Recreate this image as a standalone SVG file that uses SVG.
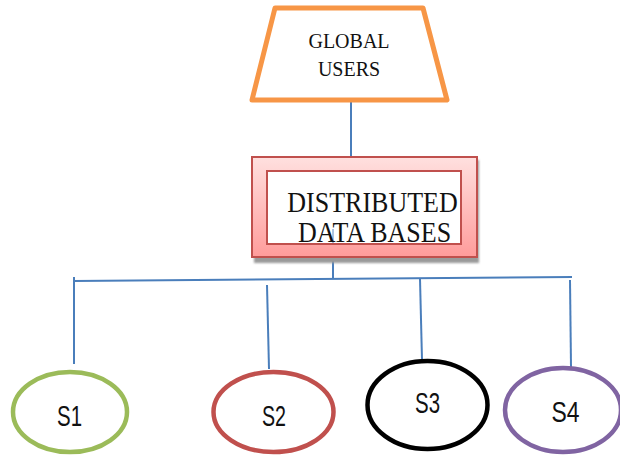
<svg xmlns="http://www.w3.org/2000/svg" width="620" height="455" viewBox="0 0 620 455">
  <defs>
    <linearGradient id="pinkFill" x1="0" y1="0" x2="0" y2="1">
      <stop offset="0" stop-color="#FFE0DF"/>
      <stop offset="1" stop-color="#FF9C9B"/>
    </linearGradient>
    <filter id="soft" x="-10%" y="-10%" width="120%" height="130%">
      <feGaussianBlur stdDeviation="1.2"/>
    </filter>
  </defs>
  <style>
    .wire { stroke: #4A7EBB; stroke-width: 2; fill: none; }
    .serif { font-family: "Liberation Serif", "Times New Roman", serif; fill: #111; text-anchor: middle; }
    .site { font-family: "Liberation Sans", Arial, sans-serif; font-size: 30px; fill: #111; text-anchor: middle; }
    .ring { fill: #fff; stroke-width: 4.5; }
  </style>

  <rect width="620" height="455" fill="#fff"/>

  <!-- connectors -->
  <g id="connectors">
    <line class="wire" x1="351" y1="100" x2="351" y2="157"/>
    <line class="wire" x1="333" y1="258" x2="333" y2="279"/>
    <line class="wire" x1="74" y1="281" x2="572" y2="277"/>
    <line class="wire" x1="74" y1="277" x2="74" y2="364"/>
    <line class="wire" x1="267" y1="285" x2="269" y2="369"/>
    <line class="wire" x1="420" y1="279" x2="422" y2="360"/>
    <line class="wire" x1="570" y1="280" x2="571" y2="367"/>
  </g>

  <!-- global users -->
  <g id="global-users">
    <polygon points="275,8 423,8 447,100 252,100" fill="#fff" stroke="#F79646" stroke-width="5" stroke-linejoin="round"/>
    <text class="serif" transform="translate(349,48) scale(1,1.08)" font-size="20">GLOBAL</text>
    <text class="serif" transform="translate(349,76) scale(1,1.08)" font-size="20">USERS</text>
  </g>

  <!-- distributed data bases -->
  <g id="distributed-db">
    <rect x="254" y="160" width="225" height="103" fill="#9A9A9A" filter="url(#soft)"/>
    <rect x="252" y="157" width="225" height="100" fill="url(#pinkFill)" stroke="#C0504D" stroke-width="2"/>
    <rect x="267" y="171" width="194" height="73" fill="#fff" stroke="#C0504D" stroke-width="2"/>
    <line x1="333" y1="229" x2="333" y2="243" stroke="#8FB0D8" stroke-width="1.5"/>
    <text class="serif" transform="translate(372.5,212) scale(1,1.12)" font-size="26">DISTRIBUTED</text>
    <text class="serif" transform="translate(374.5,242) scale(1,1.12)" font-size="26">DATA BASES</text>
  </g>

  <!-- sites -->
  <g id="s1">
    <ellipse class="ring" cx="70" cy="412" rx="57" ry="40" stroke="#9BBB59"/>
    <text class="site" x="69.5" y="426" textLength="25" lengthAdjust="spacingAndGlyphs">S1</text>
  </g>
  <g id="s2">
    <ellipse class="ring" cx="273.5" cy="412" rx="60" ry="40" stroke="#C0504D"/>
    <text class="site" x="274" y="426" textLength="24" lengthAdjust="spacingAndGlyphs">S2</text>
  </g>
  <g id="s3">
    <ellipse class="ring" cx="427.5" cy="405" rx="60" ry="44" stroke="#000" stroke-width="5"/>
    <text class="site" x="427.5" y="413" textLength="25" lengthAdjust="spacingAndGlyphs">S3</text>
  </g>
  <g id="s4">
    <ellipse class="ring" cx="563" cy="410" rx="58" ry="42" stroke="#8064A2"/>
    <text class="site" x="565.5" y="422" textLength="28" lengthAdjust="spacingAndGlyphs">S4</text>
  </g>
</svg>
